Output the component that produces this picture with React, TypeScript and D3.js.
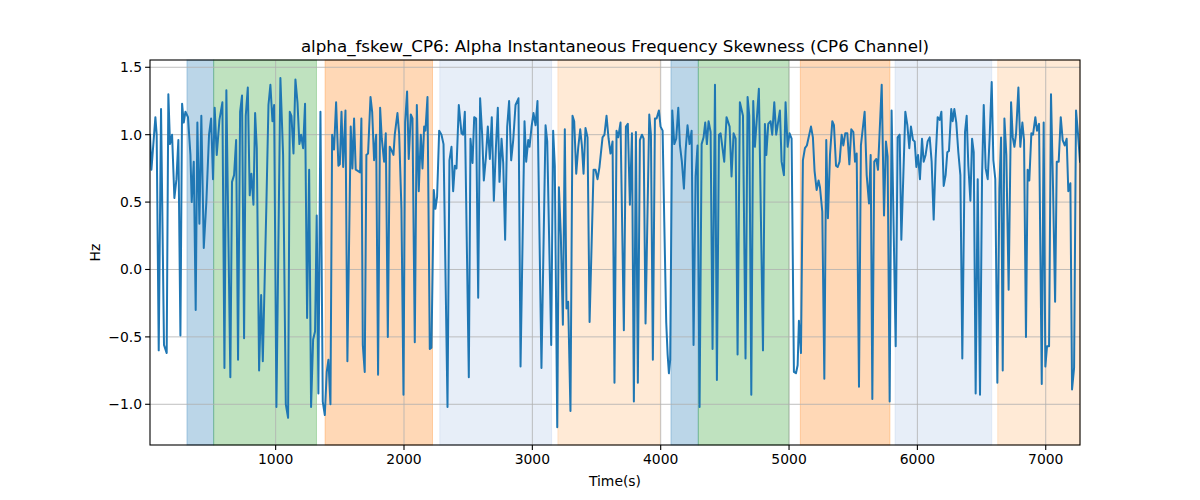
import * as d3 from "d3"

// alpha instantaneous frequency skewness, CP6 channel: [time (s), value (Hz)]
const signal: [number, number][] = [
  [21, 1.0], [32, 0.74], [63, 1.13], [73, 1.0], [89, -0.6], [107, 1.19], [130, -0.56], [151, -0.62],
  [164, 1.3], [177, 0.93], [193, 1.0], [211, 0.53], [227, 0.67], [242, 0.96], [258, -0.49], [271, 1.23],
  [284, 1.09], [297, 1.17], [317, 1.13], [336, 0.85], [346, 0.5], [362, 0.8], [377, -0.3], [390, 1.09],
  [406, 0.34], [421, 1.14], [440, 0.16], [460, 0.5], [481, 1.0], [497, 1.12], [512, 0.67], [525, 1.2],
  [541, 0.85], [562, 1.11], [585, 1.24], [601, -0.73], [616, 1.33], [647, -0.8], [660, 0.65], [676, 0.7],
  [692, 0.96], [707, -0.67], [723, 1.17], [738, 1.29], [754, -0.51],
  [767, 1.14], [783, 1.35], [798, 0.55], [811, 0.71], [827, 0.48], [840, 1.16], [853, 0.9], [871, -0.75],
  [887, -0.19], [900, -0.68], [928, 0.49], [944, 1.22], [959, 1.37], [975, 1.1], [988, 1.22], [1006, -1.02],
  [1037, 1.42], [1058, 0.85], [1079, -1.0], [1097, -1.1], [1110, 1.17], [1123, 1.14], [1139, 0.86],
  [1154, 1.41], [1170, 1.24], [1185, 0.93], [1198, 1.0], [1214, 0.9], [1229, 1.23], [1245, -0.36],
  [1261, 0.74], [1276, -1.02], [1292, -0.52], [1307, -0.46], [1320, 0.4], [1333, -0.92], [1349, 1.17],
  [1367, -0.98], [1383, -1.08], [1398, -0.76], [1411, -0.67], [1427, -1.0], [1440, 1.0], [1455, 0.89],
  [1471, 1.24], [1489, 0.77],
  [1500, 0.78], [1513, 1.17], [1526, 0.76], [1544, 1.18], [1559, -0.68], [1585, 1.06], [1598, 0.75],
  [1611, 1.12], [1624, 0.74], [1643, 0.73], [1658, 0.72], [1668, 1.12], [1679, -0.56], [1694, -0.76],
  [1707, 0.85], [1720, 0.86], [1739, 1.28], [1752, 1.17], [1767, 0.81], [1783, 1.0], [1798, -0.78],
  [1814, 1.2], [1827, 0.97], [1845, 0.8], [1858, 1.01], [1874, -0.5], [1889, 0.91], [1905, 0.88],
  [1918, 0.85], [1928, 1.0], [1949, 1.16], [1962, 1.01], [1980, 0.45], [1996, -0.93], [2009, 1.09],
  [2024, 1.32], [2037, 0.82], [2053, 1.15], [2066, 1.12], [2084, -0.54], [2100, 1.22], [2115, 0.58],
  [2131, 1.0], [2144, 0.75], [2157, 1.06], [2167, 1.03], [2183, 1.28], [2201, -0.59], [2214, -0.58],
  [2232, 0.59],
  [2245, 0.45], [2258, 0.54], [2274, 1.03], [2292, 1.0], [2308, 0.93], [2339, -1.02], [2354, 0.81],
  [2370, 0.91], [2383, 0.58], [2396, 0.77], [2409, 0.75], [2427, 1.22], [2448, 1.01], [2461, 1.0],
  [2474, 1.17], [2505, -0.8], [2518, 0.97], [2534, 0.79], [2547, 1.13], [2562, 1.12], [2578, -0.21],
  [2593, 1.27], [2609, 1.0], [2622, 0.66], [2638, 0.83], [2653, 1.06], [2669, 0.82], [2684, 1.13],
  [2700, 0.51], [2716, 0.9], [2731, 1.2], [2744, 0.65], [2760, 0.97], [2773, 0.79], [2788, 0.22],
  [2804, 1.06], [2819, 1.25], [2835, 0.81], [2851, 0.96], [2869, 1.22], [2892, 1.27], [2908, -0.72],
  [2939, 1.1], [2952, 0.8], [2968, 0.96],
  [2978, 0.91], [2994, 1.06], [3009, 1.16], [3025, 1.07], [3040, 1.25], [3071, -0.73], [3103, 1.07],
  [3116, 0.95], [3147, -0.56], [3162, 1.03], [3175, 0.77], [3194, -1.17], [3207, 0.61], [3222, 0.25],
  [3238, -0.41], [3253, 1.04], [3266, -0.29], [3279, -0.24], [3297, -1.05], [3313, 1.14], [3326, 1.1],
  [3342, 0.71], [3357, 0.9], [3373, 1.04], [3386, 0.92], [3399, 0.71], [3414, 1.05], [3430, 0.98],
  [3446, -0.39], [3477, 0.74], [3492, 0.74], [3508, 0.67], [3523, 0.76], [3547, 0.98], [3562, 1.0],
  [3578, 1.14], [3594, 0.97], [3609, 0.86], [3625, 0.95], [3640, -0.84], [3656, 1.03], [3669, 0.98],
  [3687, 1.09], [3713, -0.45],
  [3729, 1.06], [3744, 1.08], [3760, 0.48], [3776, 1.01], [3791, -0.98], [3807, 1.02], [3822, -0.84],
  [3838, 0.96], [3854, 1.0], [3867, 0.97], [3882, -0.4], [3911, 1.15], [3924, 1.0], [3939, -0.67],
  [3955, 1.12], [3968, 1.12], [3986, 1.18], [3999, 1.06], [4015, 1.03], [4028, 0.35], [4043, -0.39],
  [4054, -0.63], [4064, -0.77], [4074, -0.67], [4090, 1.18], [4106, 0.93], [4121, 0.97], [4137, 1.2],
  [4150, 0.92], [4165, 0.8], [4181, 0.6], [4194, 0.88], [4209, 1.07], [4225, 0.93], [4241, 1.03],
  [4256, -0.56], [4272, 0.69], [4287, 0.92], [4303, -1.02], [4319, 0.93], [4334, 0.98], [4347, 1.09],
  [4360, 0.93], [4373, 1.1], [4389, 1.02], [4404, -0.59], [4423, 1.37], [4438, -0.82], [4454, 1.0],
  [4467, 1.01], [4495, 0.8], [4513, 1.13], [4537, 1.06], [4552, 0.69], [4568, 1.01], [4584, 0.97],
  [4599, -0.63], [4617, 1.24], [4641, 1.14], [4661, -0.66], [4677, 1.28], [4690, 1.14], [4706, -0.93],
  [4721, 1.25], [4734, 0.91], [4765, 1.34], [4797, -0.6], [4812, 1.08], [4823, 0.85], [4838, 1.08],
  [4856, 1.1], [4869, 1.0], [4885, 1.24], [4900, 1.0], [4929, 1.18], [4942, 0.8], [4960, 0.7],
  [4973, 1.24], [4989, 0.91], [5004, 1.01], [5020, 0.97], [5038, -0.76], [5054, -0.77], [5067, -0.71],
  [5077, -0.38], [5093, -0.62], [5108, 0.81], [5124, 0.9], [5139, 0.92], [5171, 1.06],
  [5186, 0.98], [5199, 0.73], [5215, 0.59], [5230, 0.66], [5241, 0.61], [5259, 0.43], [5275, -0.81],
  [5290, 0.96], [5303, 0.38], [5319, 0.85], [5337, 1.1], [5350, 1.07], [5366, 0.77], [5379, 0.76],
  [5394, 0.8], [5410, 1.0], [5423, 0.92], [5438, 1.01], [5454, 1.01], [5470, 0.78], [5485, 1.04],
  [5501, 1.02], [5514, 0.8], [5527, 0.86], [5545, -0.87], [5560, 0.92], [5589, 1.17], [5605, 0.7],
  [5623, 0.49], [5636, 0.85], [5649, -0.96], [5664, 0.8], [5680, 0.82], [5693, 0.74], [5722, 1.37],
  [5740, 0.4], [5755, 0.95], [5768, 0.84], [5784, -0.98], [5799, 1.18], [5831, -0.57], [5846, 0.98],
  [5862, 1.0], [5875, 0.22], [5906, 1.17], [5922, 1.07], [5937, 0.9],
  [5950, 1.06], [5966, 0.96], [5979, 0.95], [5992, 0.76], [6005, 0.85], [6020, 0.67], [6036, 0.97],
  [6049, 0.8], [6064, 0.85], [6080, 0.95], [6096, 0.98], [6111, 0.8], [6127, 0.37], [6142, 0.82],
  [6158, 1.13], [6174, 1.11], [6187, 1.17], [6205, 0.62], [6220, 0.7], [6233, 0.87], [6246, 0.88],
  [6264, 1.19], [6275, 1.1], [6288, 1.19], [6303, 1.09], [6319, 0.87], [6335, 0.7], [6350, -0.66],
  [6371, 1.02], [6384, 1.14], [6397, 0.77], [6413, 0.51], [6426, 0.97], [6439, 0.87], [6454, -0.92],
  [6470, 0.67], [6488, -0.93], [6504, 0.7], [6517, 1.22], [6532, 0.75], [6548, 0.67], [6563, 0.98],
  [6579, 1.39], [6592, 0.81], [6607, 0.67], [6623, -0.84], [6639, 0.6], [6652, 0.98], [6665, -0.75],
  [6678, 1.12],
  [6693, 0.85], [6711, -0.15], [6730, 1.24], [6743, 0.98], [6756, 0.91], [6769, 1.01], [6787, 1.35],
  [6802, 0.91], [6818, 1.09], [6831, 0.96], [6846, -0.5], [6859, 0.74], [6872, 0.66], [6888, 1.01],
  [6901, 1.0], [6919, 1.13], [6932, 1.03], [6948, 1.08], [6969, -0.85], [6984, 1.09], [6997, -0.72],
  [7010, -0.57], [7026, -0.57], [7041, 1.3], [7057, 0.6], [7073, -0.24], [7086, 0.8], [7101, 0.8],
  [7117, 1.13], [7132, 0.96], [7148, 0.92], [7163, 0.97], [7176, 0.58], [7192, 0.64], [7205, -0.89],
  [7221, -0.73], [7236, 1.18], [7252, 1.0], [7267, 0.8],
]

// shaded segments (axvspan)
const spanStarts = [309, 517, 1385, 2279, 3199, 4080, 4293, 5088, 5826, 6626]
const spanEnds = [517, 1318, 2222, 3150, 3996, 4293, 4999, 5786, 6579, 7267]
const spanColors = ["#1f77b4", "#2ca02c", "#ff7f0e", "#aec7e8", "#ffbb78", "#1f77b4", "#2ca02c", "#ff7f0e", "#aec7e8", "#ffbb78"]

const xTicks = [1000, 2000, 3000, 4000, 5000, 6000, 7000]
const yTicks = [-1.0, -0.5, 0.0, 0.5, 1.0, 1.5]
const yLimits = [-1.302, 1.554]

const title = "alpha_fskew_CP6: Alpha Instantaneous Frequency Skewness (CP6 Channel)"

export default function App() {
  const width = 1200
  const height = 500
  const margin = { top: 60, right: 120, bottom: 55, left: 150 }
  const innerW = width - margin.left - margin.right
  const innerH = height - margin.top - margin.bottom

  const x = d3
    .scaleLinear()
    .domain(d3.extent(signal, (d) => d[0]) as [number, number])
    .range([0, innerW])
  const y = d3.scaleLinear().domain(yLimits).range([innerH, 0])

  const line = d3
    .line<[number, number]>()
    .x((d) => x(d[0]))
    .y((d) => y(d[1]))

  const font = "DejaVu Sans, sans-serif"

  return (
    <svg
      width={width}
      height={height}
      style={{ position: "absolute", left: 0, top: 0, background: "#fff" }}
      fontFamily={font}
    >
      <g transform={`translate(${margin.left},${margin.top})`}>
        {/* spans */}
        {spanStarts.map((s, i) => (
          <rect
            key={"s" + i}
            x={x(s)}
            y={0}
            width={Math.min(x(spanEnds[i]), innerW) - x(s)}
            height={innerH}
            fill={spanColors[i]}
            fillOpacity={0.3}
            stroke={spanColors[i]}
            strokeOpacity={0.3}
            strokeWidth={1}
          />
        ))}

        {/* grid */}
        {xTicks.map((t) => (
          <line key={"gx" + t} x1={x(t)} x2={x(t)} y1={0} y2={innerH} stroke="#b0b0b0" strokeWidth={0.8} />
        ))}
        {yTicks.map((t) => (
          <line key={"gy" + t} x1={0} x2={innerW} y1={y(t)} y2={y(t)} stroke="#b0b0b0" strokeWidth={0.8} />
        ))}

        <clipPath id="plotClip">
          <rect x={0} y={0} width={innerW} height={innerH} />
        </clipPath>
        <path
          d={line(signal) ?? ""}
          fill="none"
          stroke="#1f77b4"
          strokeWidth={2}
          strokeLinejoin="round"
          strokeLinecap="square"
          clipPath="url(#plotClip)"
        />

        {/* frame */}
        <rect x={0} y={0} width={innerW} height={innerH} fill="none" stroke="#000" strokeWidth={1.1} />

        {/* x axis */}
        {xTicks.map((t) => (
          <g key={"tx" + t} transform={`translate(${x(t)},${innerH})`}>
            <line y1={0} y2={4.9} stroke="#000" strokeWidth={1.1} />
            <text y={19} textAnchor="middle" fontSize={13.9} fill="#000">
              {t}
            </text>
          </g>
        ))}
        {/* y axis */}
        {yTicks.map((t) => (
          <g key={"ty" + t} transform={`translate(0,${y(t)})`}>
            <line x1={0} x2={-4.9} stroke="#000" strokeWidth={1.1} />
            <text x={-8} dy="0.35em" textAnchor="end" fontSize={13.9} fill="#000">
              {t < 0 ? "\u2212" + Math.abs(t).toFixed(1) : t.toFixed(1)}
            </text>
          </g>
        ))}

        <text x={innerW / 2} y={innerH + 41} textAnchor="middle" fontSize={13.9} fill="#000">
          Time(s)
        </text>
        <text
          transform={`translate(-50,${innerH / 2}) rotate(-90)`}
          textAnchor="middle"
          fontSize={13.9}
          fill="#000"
        >
          Hz
        </text>
        <text x={innerW / 2} y={-8} textAnchor="middle" fontSize={16.7} fill="#000">
          {title}
        </text>
      </g>
    </svg>
  )
}
